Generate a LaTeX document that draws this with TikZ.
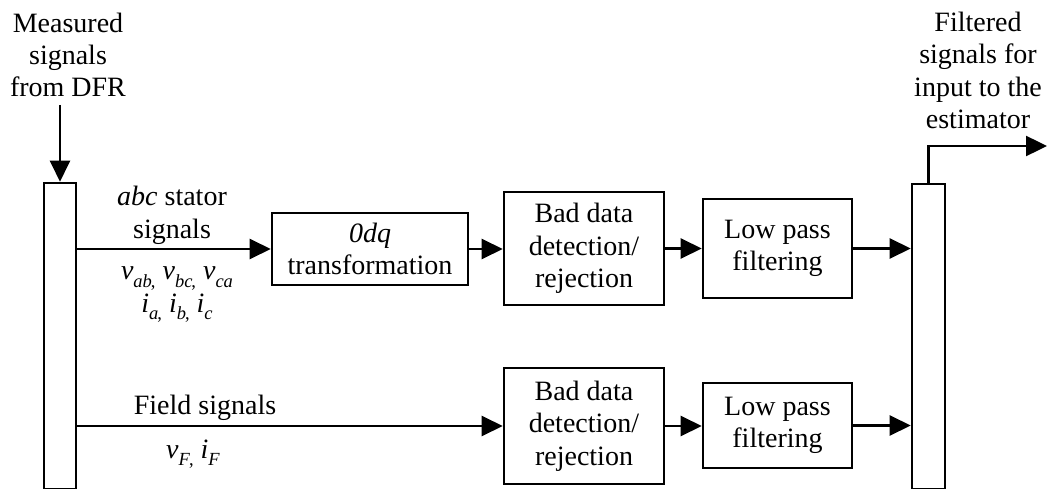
\documentclass[tikz,border=0pt]{standalone}
\usepackage{fontspec}
\setmainfont{Liberation Serif}
\usetikzlibrary{arrows.meta}
\newcommand\sbs[1]{\raisebox{-7.5pt}{\fontsize{18.5}{18.5}\selectfont #1}}
\begin{document}
\begin{tikzpicture}[x=1pt,y=-1pt,
  font=\fontsize{28}{32.3}\selectfont,
  blk/.style={draw,line width=2.6pt,inner sep=0pt,align=center},
  bar/.style={draw,line width=2.6pt,inner sep=0pt,minimum width=32pt},
  lbl/.style={align=center,inner sep=0pt,anchor=base},
  conn/.style={line width=2.4pt,-{Triangle[length=21pt,width=20pt]}},
  plain/.style={line width=2.4pt}]
\useasboundingbox (0,0) rectangle (1048,489);
% bars
\node[bar,minimum height=306.5pt] (bar1) at (60,336.25) {};
\node[bar,minimum height=305.5pt,minimum width=33pt] (bar2) at (928.5,336.75) {};
% blocks
\node[blk,minimum width=196pt,minimum height=72pt] (tr) at (370,249) {\textit{0dq}\\transformation};
\node[blk,minimum width=160pt,minimum height=113pt] (bd1) at (584,248.5) {Bad data\\detection/\\rejection};
\node[blk,minimum width=149pt,minimum height=99pt] (lp1) at (777.5,248.5) {Low pass\\filtering};
\node[blk,minimum width=160pt,minimum height=116pt] (bd2) at (584,426) {Bad data\\detection/\\rejection};
\node[blk,minimum width=149pt,minimum height=85pt] (lp2) at (777.5,425.5) {Low pass\\filtering};
% labels
\node[lbl] (meas) at (68,97) {Measured\\signals\\from DFR};
\node[lbl] (filt) at (978,128.5) {Filtered\\signals for\\input to the\\estimator};
\node[lbl] (abc) at (172,238) {\textit{abc} stator\\signals};
\node[lbl] (vab) at (177,312) {\textit{v}\sbs{\textit{ab}}\kern-1pt\sbs{,} \textit{v}\sbs{\textit{bc}}\kern-1pt\sbs{,} \textit{v}\sbs{\textit{ca}}\\\textit{i}\sbs{\textit{a}}\kern-1pt\sbs{,} \textit{i}\sbs{\textit{b}}\kern-1pt\sbs{,} \textit{i}\sbs{\textit{c}}};
\node[lbl] (field) at (205,414) {Field signals};
\node[lbl] (vf) at (193,458) {\textit{v}\sbs{\textit{F}}\kern-1pt\sbs{,} \textit{i}\sbs{\textit{F}}};
% connectors
\coordinate (in) at (60,105);
\coordinate (out) at (1047,146);
\draw[conn] (in) -- (bar1.north);
\draw[conn] (bar1.east |- tr.west) -- (tr.west);
\draw[conn] (tr.east) -- (bd1.west |- tr.east);
\draw[conn] (bd1.east) -- (lp1.west);
\draw[conn] (lp1.east) -- (bar2.west |- lp1.east);
\draw[conn] (bar1.east |- bd2.west) -- (bd2.west);
\draw[conn] (bd2.east) -- (lp2.west |- bd2.east);
\draw[conn] (lp2.east) -- (bar2.west |- lp2.east);
\draw[conn] (bar2.north) -- (bar2.north |- out) -- (out);
\end{tikzpicture}
\end{document}
